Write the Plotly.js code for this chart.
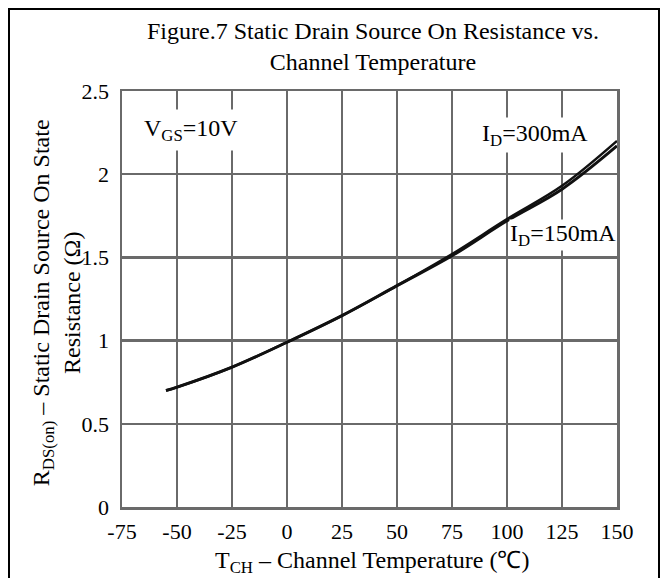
<!DOCTYPE html>
<html><head><meta charset="utf-8">
<script src="https://cdn.plot.ly/plotly-3.0.1.min.js"></script>
<style>
html,body{margin:0;padding:0;background:#fff;}
#wrap{position:relative;width:664px;height:578px;overflow:hidden;}
#frame{position:absolute;left:8px;top:8px;width:648px;height:620px;border:2px solid #000;pointer-events:none;}
</style></head>
<body><div id="wrap"><div id="chart" style="width:664px;height:578px;"></div><div id="frame"></div></div>
<script>
const temps = [-55, -50, -25, 0, 25, 50, 75, 100, 125, 150];
const rds150 = [0.70, 0.72, 0.84, 0.99, 1.15, 1.33, 1.51, 1.72, 1.91, 2.17];
const rds300 = [0.70, 0.72, 0.84, 0.99, 1.15, 1.33, 1.52, 1.73, 1.93, 2.20];
const xTicks = [-75, -50, -25, 0, 25, 50, 75, 100, 125, 150];
const yTicks = [0, 0.5, 1, 1.5, 2, 2.5];
const yTickText = ['0', '0.5', '1', '1.5', '2', '2.5'];

const fam = '"Liberation Serif", "Times New Roman", serif';
const tickFont = {family: fam, size: 22, color: '#000'};
const font = {family: fam, size: 24, color: '#000'};
const gridC = '#6a6a6a';

const traces = [
  {x: temps, y: rds150, mode: 'lines', line: {color: '#111', width: 3, shape: 'spline'}, name: 'ID=150mA', showlegend: false},
  {x: temps, y: rds300, mode: 'lines', line: {color: '#111', width: 2.5, shape: 'spline'}, name: 'ID=300mA', showlegend: false}
];

const layout = {
  width: 664, height: 578,
  margin: {l: 122, r: 47, t: 91, b: 71},
  paper_bgcolor: '#fff', plot_bgcolor: '#fff',
  font: font,
  xaxis: {range: [-75, 150], tickvals: xTicks, ticktext: xTicks.map(String), showgrid: true, gridcolor: gridC, gridwidth: 2.5,
          zeroline: false, showline: true, linecolor: gridC, linewidth: 2.5, mirror: true, ticks: '', tickfont: tickFont,
          ticklabelstandoff: 3, fixedrange: true},
  yaxis: {range: [0, 2.5], tickvals: yTicks, ticktext: yTickText, showgrid: true, gridcolor: gridC, gridwidth: 2.5,
          zeroline: false, showline: true, linecolor: gridC, linewidth: 2.5, mirror: true, ticks: '', tickfont: tickFont,
          ticklabelstandoff: 6, fixedrange: true},
  annotations: [
    {xref: 'paper', yref: 'paper', x: (373 - 122) / 495, y: (507 - 47) / 416, xanchor: 'center', yanchor: 'middle', showarrow: false,
     text: 'Figure.7 Static Drain Source On Resistance vs.<br>Channel Temperature', font: font},
    {xref: 'paper', yref: 'paper', x: (372 - 122) / 495, y: (507 - 562) / 416, xanchor: 'center', yanchor: 'middle', showarrow: false,
     text: 'T<sub>CH</sub> – Channel Temperature (℃)', font: font},
    {xref: 'paper', yref: 'paper', x: (56 - 122) / 495, y: 0.49, xanchor: 'center', yanchor: 'middle', showarrow: false, textangle: -90,
     text: 'R<sub>DS(on)</sub> – Static Drain Source On State<br>Resistance (Ω)', font: font},
    {xref: 'x', yref: 'y', x: -43.6, y: 2.266, xanchor: 'center', yanchor: 'middle', showarrow: false,
     text: 'V<sub>GS</sub>=10V', font: font, bgcolor: '#fff', borderpad: 5},
    {xref: 'x', yref: 'y', x: 112.7, y: 2.236, xanchor: 'center', yanchor: 'middle', showarrow: false,
     text: 'I<sub>D</sub>=300mA', font: font, bgcolor: '#fff', borderpad: 2},
    {xref: 'x', yref: 'y', x: 125.5, y: 1.635, xanchor: 'center', yanchor: 'middle', showarrow: false,
     text: 'I<sub>D</sub>=150mA', font: font, bgcolor: '#fff', borderpad: 0}
  ]
};
Plotly.newPlot('chart', traces, layout, {displayModeBar: false, staticPlot: true});
</script></body></html>
